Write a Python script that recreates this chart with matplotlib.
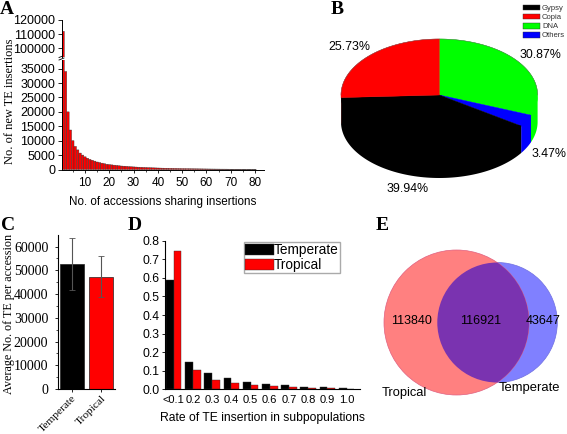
import numpy as np
import matplotlib
matplotlib.use("Agg")
import matplotlib.pyplot as plt
from matplotlib.patches import Circle, Polygon, Patch

W, H = 567, 434

# panel A
shared = np.arange(1, 81)
insertions = [112000, 34000, 20000, 13700, 10000, 8000, 6800, 5700, 5000, 4400,
              3900, 3500, 3200, 2900, 2600, 2400, 2200, 2000, 1800, 1700,
              1600, 1500, 1400, 1300, 1200, 1150, 1100, 1000, 950, 900,
              850, 800, 760, 720, 680, 640, 610, 580, 550, 520,
              490, 460, 440, 420, 400, 380, 360, 340, 320, 300,
              290, 280, 265, 250, 240, 230, 220, 210, 200, 190,
              180, 170, 160, 150, 140, 130, 125, 120, 110, 100,
              95, 90, 85, 80, 75, 70, 65, 60, 55, 50]

# panel B
pie_names = ["Gypsy", "Copia", "DNA", "Others"]
pie_values = [39.94, 25.73, 30.87, 3.47]
pie_colors = ["black", "red", "#00ff00", "blue"]

# panel C
groups = ["Temperate", "Tropical"]
mean_te = [52700, 47400]
err_te = [11000, 8800]

# panel D
rate_labels = ["<0.1", "0.2", "0.3", "0.4", "0.5", "0.6", "0.7", "0.8", "0.9", "1.0"]
rate_temperate = [0.59, 0.145, 0.087, 0.06, 0.04, 0.028, 0.022, 0.015, 0.01, 0.006]
rate_tropical = [0.745, 0.105, 0.05, 0.033, 0.023, 0.018, 0.012, 0.008, 0.005, 0.003]

# panel E
venn_counts = [113840, 116921, 43647]

plt.rcParams["font.family"] = ["Liberation Sans", "DejaVu Sans"]
SERIF = "Liberation Serif"


def px_axes(left, top, right, bottom):
    return fig.add_axes([left / W, 1 - bottom / H, (right - left) / W, (bottom - top) / H])


fig = plt.figure(figsize=(W / 100, H / 100), dpi=100)

# whole figure overlay in pixels, y down
bg = fig.add_axes([0, 0, 1, 1])
bg.set_xlim(0, W)
bg.set_ylim(H, 0)
bg.axis("off")

for lab, x, y in [("A", 7, 10), ("B", 337, 10), ("C", 8, 225), ("D", 135, 225), ("E", 382, 225)]:
    bg.text(x, y, lab, family=SERIF, weight="bold", fontsize=14, ha="center", va="center")

# A: broken axis
low = px_axes(61.5, 60, 264, 169.5)
up = px_axes(61.5, 20, 264, 57)
for ax in (low, up):
    ax.bar(shared, insertions, width=1.0, color="red", edgecolor="#333333", linewidth=0.3, snap=False)
    ax.set_xlim(0.35, 83.7)
    ax.spines["top"].set_visible(False)
    ax.spines["right"].set_visible(False)
    ax.tick_params(axis="y", labelsize=9, length=3, width=0.6, pad=1.5)
    ax.tick_params(axis="x", labelsize=8.5, length=2.5, width=0.6, pad=3)
    for s in ax.spines.values():
        s.set_linewidth(0.7)
low.set_ylim(0, 38000)
low.set_yticks(range(0, 35001, 5000))
low.set_xticks(range(10, 81, 10))
low.set_xticks(range(5, 81, 5), minor=True)
low.tick_params(which="minor", length=1.5, width=0.5)
low.set_xlabel("No. of accessions sharing insertions", fontsize=8.4, labelpad=5)
up.set_ylim(93850, 120000)
up.set_yticks([100000, 110000, 120000])
up.set_xticks([])
up.spines["bottom"].set_visible(False)
bg.plot([59, 64], [60, 58], color="black", lw=0.6)
bg.plot([59, 64], [57.5, 55.5], color="black", lw=0.6)
bg.text(10, 101, "No. of new TE insertions", family=SERIF, fontsize=8.9, rotation=90,
        ha="center", va="center")

# B: pie drawn on a tilted ellipse
cx, cy, a, b, depth = 439.3, 95, 98.3, 56, 27
angle = 90.0
order = [2, 3, 0, 1]
for i in order:
    sweep = pie_values[i] / sum(pie_values) * 360
    t = np.radians(np.linspace(angle, angle - sweep, 80))
    xs = cx + a * np.cos(t)
    ys = cy - b * np.sin(t)
    # side wall only where the rim faces the viewer, tucked under the top face
    front = np.sin(t) <= 0
    if front.any():
        fx, fy = xs[front], ys[front]
        wall = np.column_stack([np.r_[fx, fx[::-1]], np.r_[fy - 3, fy[::-1] + depth]])
        bg.add_patch(Polygon(wall, closed=True, fc=pie_colors[i], ec="none", zorder=2))
    top = np.column_stack([np.r_[cx, xs], np.r_[cy, ys]])
    bg.add_patch(Polygon(top, closed=True, fc=pie_colors[i], ec=pie_colors[i], lw=0.3, zorder=3))
    angle -= sweep
rim = np.radians(np.linspace(0, 180, 120))
bg.plot(cx + a * np.cos(rim), cy - b * np.sin(rim), color="#555555", lw=0.3, zorder=4)

for txt, x, y in [("39.94%", 407.5, 189.5), ("25.73%", 349, 47), ("30.87%", 540, 55), ("3.47%", 549, 154)]:
    bg.text(x, y, txt, fontsize=8.9, ha="center", va="center", zorder=5)

handles = [Patch(fc=c, ec="#333333", lw=0.3) for c in pie_colors]
bg.legend(handles, pie_names, loc="upper left", bbox_to_anchor=(523 / W, 1 - 4.5 / H), frameon=False,
          fontsize=5.5, labelcolor="#333333", handlelength=2.2, handleheight=0.8,
          labelspacing=0.2, handletextpad=0.3, borderpad=0, borderaxespad=0)

# C
axc = px_axes(58, 235, 115, 389)
axc.bar([0, 1], mean_te, width=0.81, color=["black", "red"], edgecolor="#222222", linewidth=0.5)
axc.errorbar([0, 1], mean_te, yerr=err_te, fmt="none", ecolor="#555555", elinewidth=0.8,
             capsize=2, capthick=0.6)
axc.set_xlim(-0.47, 1.47)
axc.set_ylim(0, 64900)
axc.set_yticks(range(0, 60001, 10000))
axc.set_yticks(range(5000, 60001, 10000), minor=True)
axc.set_xticks([0, 1])
axc.set_xticklabels(groups, rotation=45, ha="right", rotation_mode="anchor", family=SERIF, fontsize=8.2)
axc.tick_params(axis="y", labelsize=10, length=2.5, width=0.6, pad=4.5, labelfontfamily=SERIF)
axc.tick_params(axis="y", which="minor", length=1.5, width=0.5)
axc.tick_params(axis="x", length=2.5, width=0.6, pad=1)
axc.spines["top"].set_visible(False)
axc.spines["right"].set_visible(False)
bg.text(9, 314, "Average No. of TE per accession", family=SERIF, fontsize=8.7, rotation=90,
        ha="center", va="center")

# D
axd = px_axes(165, 240.7, 360, 389.3)
pos = np.arange(len(rate_labels))
w = 0.405
axd.bar(pos - w / 2, rate_temperate, width=w, color="black", edgecolor="#333333", linewidth=0.3,
        label="Temperate")
axd.bar(pos + w / 2, rate_tropical, width=w, color="red", edgecolor="#333333", linewidth=0.3,
        label="Tropical")
axd.set_xlim(-0.453, 9.7)
axd.set_ylim(0, 0.8)
axd.set_yticks(np.arange(0, 0.81, 0.1))
axd.set_xticks(pos)
axd.set_xticklabels(rate_labels)
axd.tick_params(axis="y", labelsize=8.7, length=2.5, width=0.6, pad=1.5)
axd.tick_params(axis="x", labelsize=8, length=0, pad=4)
axd.spines["top"].set_visible(False)
axd.spines["right"].set_visible(False)
axd.set_xlabel("Rate of TE insertion in subpopulations", fontsize=8.7, labelpad=5)
axd.legend(loc="upper left", bbox_to_anchor=((244.3 - 165) / 195, 0.99), fontsize=9.8, fancybox=False,
           edgecolor="#aaaaaa", framealpha=1, handlelength=2.1, handleheight=0.85, labelspacing=0.1,
           handletextpad=0.05, borderpad=0.05, borderaxespad=0)

# E
red_c = Circle((456.5, 322.5), 72.5, fc="#ff8080", ec="#e06080", lw=0.5, zorder=2)
blue_c = Circle((497.3, 322.5), 60, fc="#8080ff", ec="#7070e0", lw=0.5, zorder=2)
bg.add_patch(blue_c)
bg.add_patch(red_c)
both = Circle((497.3, 322.5), 60, fc="#7a33b0", ec="none", zorder=3)
bg.add_patch(both)
both.set_clip_path(red_c)
for n, x in zip(venn_counts, [411, 481, 543]):
    bg.text(x, 321.5, str(n), fontsize=9, ha="center", va="center", zorder=5)
bg.text(404, 393, "Tropical", fontsize=9.3, ha="center", va="center", zorder=5)
bg.text(529, 388.5, "Temperate", fontsize=9.4, ha="center", va="center", zorder=5)

fig.savefig("out.png", dpi=100)
